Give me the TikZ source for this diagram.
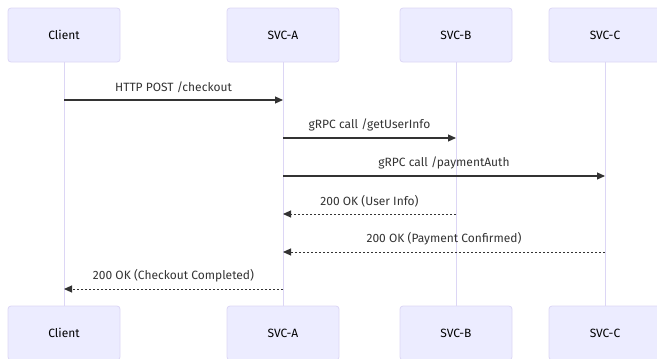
\documentclass[tikz,border=0pt]{standalone}
\usepackage{fontspec}
\setmainfont{Fira Sans}
\usetikzlibrary{arrows.meta}
\definecolor{actfill}{HTML}{ECECFF}
\definecolor{actline}{HTML}{DCD6F5}
\definecolor{msg}{HTML}{333333}
\begin{document}
\begin{tikzpicture}[x=1pt,y=-1pt,
  actor/.style={draw=actline,fill=actfill,rounded corners=3pt,minimum width=112pt,minimum height=54pt,font=\fontsize{12}{14}\selectfont,inner sep=0pt,line width=0.8pt},
  life/.style={draw=actline,line width=1pt},
  call/.style={draw=msg,line width=1.1pt,-{Triangle[length=8pt,width=7pt]}},
  reply/.style={draw=msg,line width=1pt,dash pattern=on 2pt off 2pt,-{Triangle[length=8pt,width=7pt]}},
  lbl/.style={font=\fontsize{12}{14}\selectfont,text=msg,inner sep=0pt}]
\useasboundingbox (0,0) rectangle (657,359);
\node[actor] (c1) at (64,35) {Client};
\node[actor] (a1) at (283,35) {SVC-A};
\node[actor] (b1) at (456,35) {SVC-B};
\node[actor] (s1) at (605,35) {SVC-C};
\node[actor] (c2) at (64,333) {Client};
\node[actor] (a2) at (283,333) {SVC-A};
\node[actor] (b2) at (456,333) {SVC-B};
\node[actor] (s2) at (605,333) {SVC-C};
\draw[life] (c1.south) -- (c2.north);
\draw[life] (a1.south) -- (a2.north);
\draw[life] (b1.south) -- (b2.north);
\draw[life] (s1.south) -- (s2.north);
\coordinate (cy1) at (64,100); \coordinate (ay1) at (283,100);
\coordinate (ay2) at (283,138); \coordinate (by2) at (456,138);
\coordinate (ay3) at (283,176); \coordinate (sy3) at (605,176);
\coordinate (by4) at (456,214); \coordinate (ay4) at (283,214);
\coordinate (sy5) at (605,252); \coordinate (ay5) at (283,252);
\coordinate (ay6) at (283,289); \coordinate (cy6) at (64,289);
\draw[call] (cy1) -- (ay1) node[lbl,midway,yshift=13pt] (m1) {HTTP POST /checkout};
\draw[call] (ay2) -- (by2) node[lbl,midway,yshift=13pt] (m2) {gRPC call /getUserInfo};
\draw[call] (ay3) -- (sy3) node[lbl,midway,yshift=13pt] (m3) {gRPC call /paymentAuth};
\draw[reply] (by4) -- (ay4) node[lbl,midway,yshift=13pt] (m4) {200 OK (User Info)};
\draw[reply] (sy5) -- (ay5) node[lbl,midway,yshift=13pt] (m5) {200 OK (Payment Confirmed)};
\draw[reply] (ay6) -- (cy6) node[lbl,midway,yshift=13pt] (m6) {200 OK (Checkout Completed)};
\end{tikzpicture}
\end{document}
